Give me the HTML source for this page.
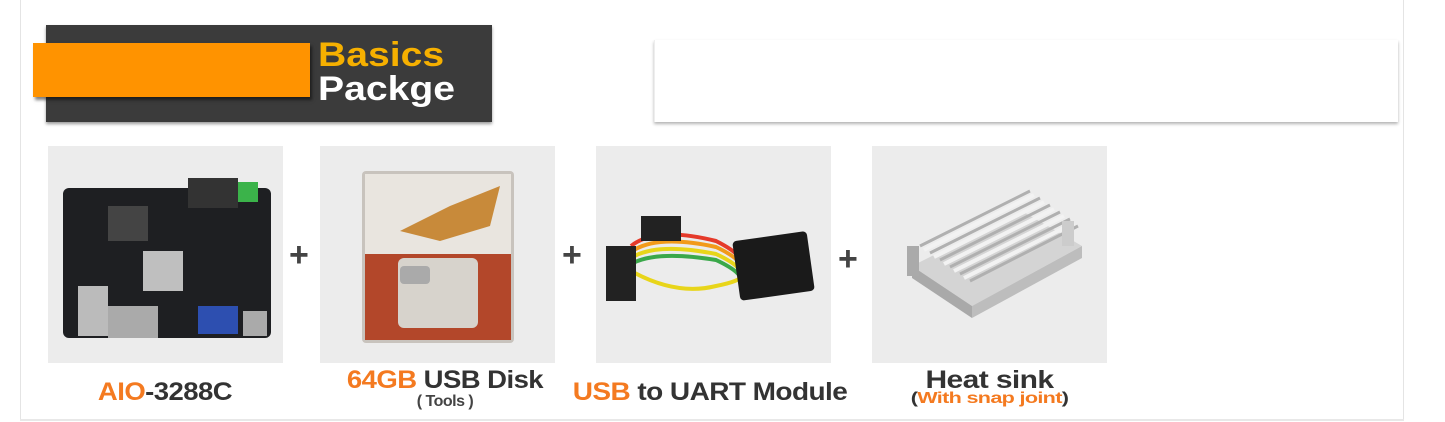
<!DOCTYPE html>
<html><head><style>
body{margin:0;width:1445px;height:422px;background:#fff;position:relative;overflow:hidden;font-family:"Liberation Sans",sans-serif}
.a{position:absolute}
.p{position:absolute;top:146px;width:235px;height:217px;background:#ececec}
.lbl{position:absolute;font-weight:bold;color:#333;text-align:center;font-size:25px;letter-spacing:-0.5px;white-space:nowrap}
.o{color:#f47a20}
.plus{position:absolute;font-size:34px;color:#444;font-weight:bold}
</style></head><body>
<div class="a" style="left:20px;top:0;width:1px;height:420px;background:#e4e4e4"></div>
<div class="a" style="left:1403px;top:0;width:1px;height:420px;background:#e4e4e4"></div>
<div class="a" style="left:20px;top:419px;width:1384px;height:2px;background:#e8e8e8"></div>
<div class="a" style="left:46px;top:25px;width:446px;height:97px;background:#3b3b3b;box-shadow:0 2px 3px rgba(0,0,0,.4)"></div>
<div class="a" style="left:33px;top:43px;width:277px;height:54px;background:#ff9300;box-shadow:2px 3px 3px rgba(0,0,0,.5)"></div>
<div class="a" style="left:318px;top:36px;font-size:34px;font-weight:bold;color:#f6b000;transform:scaleX(1.15);transform-origin:left">Basics</div>
<div class="a" style="left:318px;top:70px;font-size:34px;font-weight:bold;color:#fff;transform:scaleX(1.15);transform-origin:left">Packge</div>
<div class="a" style="left:654px;top:40px;width:743px;height:82px;background:#fff;box-shadow:0 2px 3px rgba(0,0,0,.3);border-left:1px solid #eee"></div>

<div class="p" style="left:48px"></div>
<div class="p" style="left:320px"></div>
<div class="p" style="left:596px"></div>
<div class="p" style="left:872px"></div>

<svg class="a" style="left:48px;top:146px" width="235" height="217">
<rect x="15" y="42" width="208" height="150" rx="6" fill="#1e1f22"/>
<rect x="140" y="32" width="50" height="30" fill="#333"/>
<rect x="190" y="36" width="20" height="20" fill="#3bb34a"/>
<rect x="95" y="105" width="40" height="40" fill="#bfbfbf"/>
<rect x="30" y="140" width="30" height="50" fill="#bbb"/>
<rect x="60" y="160" width="50" height="32" fill="#aaa"/>
<rect x="150" y="160" width="40" height="28" fill="#2d4fb0"/>
<rect x="195" y="165" width="24" height="25" fill="#aaa"/>
<rect x="60" y="60" width="40" height="35" fill="#444"/>
</svg>
<div class="plus" style="left:289px;top:236px">+</div>
<svg class="a" style="left:320px;top:146px" width="235" height="217">
<rect x="42" y="25" width="152" height="172" rx="4" fill="#c8c3bd"/>
<rect x="45" y="28" width="146" height="80" fill="#e9e5df"/>
<rect x="45" y="108" width="146" height="86" fill="#b3472a"/>
<path d="M80 85 L130 60 L180 40 L170 80 L120 95 Z" fill="#c88a3a"/>
<rect x="78" y="112" width="80" height="70" rx="6" fill="#d7d3cc"/>
<rect x="80" y="120" width="30" height="18" rx="4" fill="#aaa"/>
</svg>
<div class="plus" style="left:562px;top:236px">+</div>
<svg class="a" style="left:596px;top:146px" width="235" height="217">
<g fill="none" stroke-width="4">
<path d="M35 100 Q60 80 120 95 Q150 110 145 120" stroke="#e53a2a"/>
<path d="M35 106 Q60 88 120 101 Q150 115 145 126" stroke="#f29a1a"/>
<path d="M35 112 Q60 96 120 108 Q150 122 145 132" stroke="#e8d51a"/>
<path d="M35 118 Q60 104 120 114 Q150 128 145 138" stroke="#3aa84a"/>
<path d="M35 125 Q80 150 120 140 Q145 135 145 130" stroke="#e8d51a"/>
</g>
<rect x="10" y="100" width="30" height="55" fill="#222"/>
<rect x="45" y="70" width="40" height="25" fill="#222"/>
<rect x="140" y="90" width="75" height="60" rx="4" fill="#1a1a1a" transform="rotate(-8 177 120)"/>
</svg>
<div class="plus" style="left:838px;top:240px">+</div>
<svg class="a" style="left:872px;top:146px" width="235" height="217">
<path d="M40 120 L150 65 L210 100 L100 160 Z" fill="#d4d4d4"/>
<path d="M40 120 L100 160 L100 172 L40 132 Z" fill="#a9a9a9"/>
<path d="M100 160 L210 100 L210 112 L100 172 Z" fill="#bdbdbd"/>
<g stroke="#b0b0b0" stroke-width="3">
<path d="M48 100 L158 45 M58 107 L168 52 M68 114 L178 59 M78 121 L188 66 M88 128 L198 73 M98 135 L206 80"/>
</g>
<g stroke="#f2f2f2" stroke-width="4">
<path d="M52 104 L162 49 M62 111 L172 56 M72 118 L182 63 M82 125 L192 70 M92 132 L202 77"/>
</g>
<rect x="35" y="100" width="12" height="30" fill="#aaa"/>
<rect x="190" y="75" width="12" height="25" fill="#ccc"/>
</svg>

<div class="lbl" style="left:40px;top:378px;width:250px;transform:scaleX(1.1)"><span class="o">AIO</span>-3288C</div>
<div class="lbl" style="left:320px;top:366px;width:250px;transform:scaleX(1.1)"><span class="o">64GB</span> USB Disk</div>
<div class="lbl" style="left:320px;top:393px;width:250px;font-size:16px;font-weight:bold;color:#444">( Tools )</div>
<div class="lbl" style="left:560px;top:378px;width:300px;transform:scaleX(1.12)"><span class="o">USB</span> to UART Module</div>
<div class="lbl" style="left:872px;top:366px;width:235px;transform:scaleX(1.2)">Heat sink</div>
<div class="lbl" style="left:872px;top:390px;width:235px;font-size:16px;transform:scaleX(1.35)">(<span class="o">With snap joint</span>)</div>
</body></html>
